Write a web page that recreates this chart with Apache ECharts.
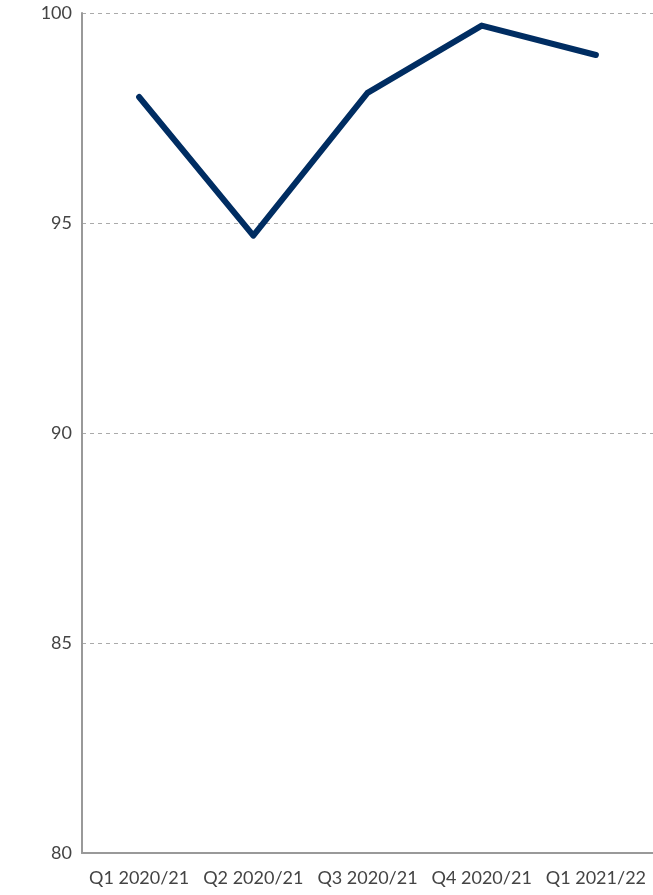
<!DOCTYPE html>
<html>
<head>
<meta charset="utf-8">
<script src="https://cdn.jsdelivr.net/npm/echarts@6/dist/echarts.min.js"></script>
<style>
  html, body { margin: 0; padding: 0; background: #fff; }
  #chart { width: 653px; height: 895px; }
</style>
</head>
<body>
<div id="chart"></div>
<script>
// quarters on the x axis
const quarters = ['Q1 2020/21', 'Q2 2020/21', 'Q3 2020/21', 'Q4 2020/21', 'Q1 2021/22'];
// values
const values = [98.0, 94.7, 98.1, 99.7, 99.0];
const yTicks = [80, 85, 90, 95, 100];

const chart = echarts.init(document.getElementById('chart'));
chart.setOption({
  animation: false,
  grid: { left: 82, right: 0, top: 13, bottom: 42 },
  xAxis: {
    type: 'category',
    data: quarters,
    boundaryGap: true,
    axisLine: { lineStyle: { color: '#999', width: 2 } },
    axisTick: { show: false },
    axisLabel: {
      interval: 0, hideOverlap: false,
      color: '#444', fontSize: 18, fontFamily: 'Lato', margin: 16
    }
  },
  yAxis: {
    type: 'value',
    min: yTicks[0],
    max: yTicks[yTicks.length - 1],
    interval: 5,
    axisLine: { show: true, lineStyle: { color: '#999', width: 2 } },
    axisTick: { show: false },
    axisLabel: { color: '#444', fontSize: 18, fontFamily: 'Lato', margin: 10 },
    splitLine: { lineStyle: { color: '#aaa', type: [4, 4], width: 1 } }
  },
  series: [{
    type: 'line',
    data: values,
    showSymbol: false,
    lineStyle: { color: '#002d62', width: 6, cap: 'round', join: 'round' }
  }]
});
</script>
</body>
</html>
